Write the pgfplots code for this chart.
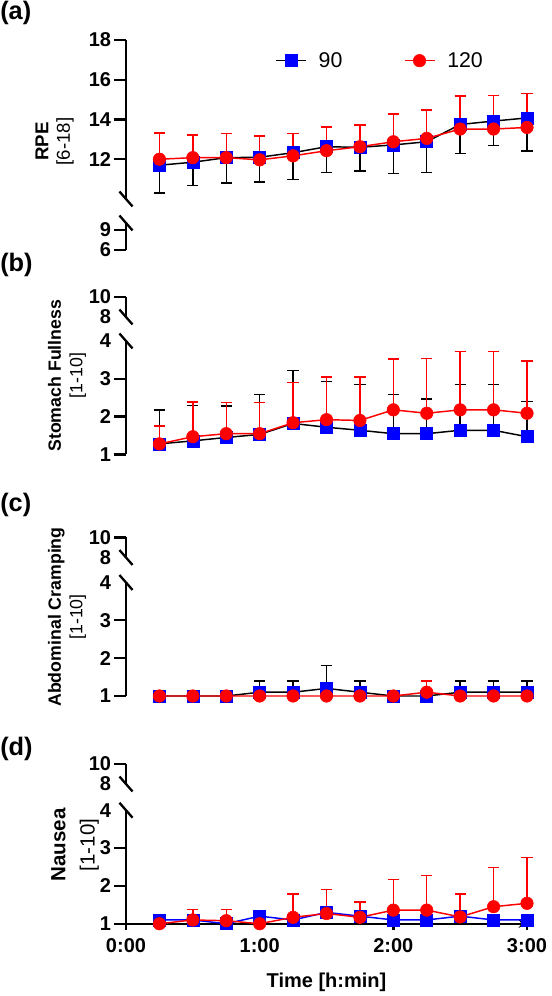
\documentclass[border=0pt]{standalone}
\usepackage{fontspec}
\setmainfont{Liberation Sans}
\usepackage{pgfplots}
\pgfplotsset{compat=1.18}
\definecolor{myblue}{RGB}{0,0,255}
\definecolor{myred}{RGB}{255,0,0}
\pgfplotsset{
 brk/.style={
  scale only axis, width=300.75pt, xmin=0, xmax=3, clip=false,
  axis y line=left, axis line style={-, line width=1.75pt},
  tick style={line width=1.75pt, black}, tick align=outside, major tick length=9pt,
  ytick pos=left,
  /pgf/number format/assume math mode=true,
  yticklabel style={font=\fontsize{15}{15}\selectfont\bfseries, inner sep=2pt},
  every axis plot/.append style={line width=1.1pt},
 },
 nox/.style={axis x line=none, xtick=\empty},
 hidetick/.style={extra y ticks={#1}, extra y tick style={major tick length=0pt, yticklabel style={xshift=-9pt}}},
 slash/.style={after end axis/.append code={\draw[line width=1.75pt, black] ([shift={(-4.9pt,5.6pt)}]axis cs:0,#1) -- ([shift={(4.9pt,-5.6pt)}]axis cs:0,#1);}},
 s90/.style={black, mark=square*, mark size=4.5pt, mark options={fill=myblue, draw=myblue, line width=0.4pt}},
 s120/.style={myred, mark=*, mark size=4.7pt, mark options={fill=myred, draw=myred, line width=0.4pt}},
 eb/.style={error bars/y dir=#1, error bars/y explicit, error bars/error bar style={line width=1.1pt}, error bars/error mark options={rotate=90, mark size=4.2pt, line width=1.1pt}},
}
\begin{document}
\begin{tikzpicture}
\path[use as bounding box] (0pt,0pt) rectangle (413.25pt,747pt);
% panel labels
\node[anchor=west, font=\fontsize{19}{19}\selectfont\bfseries, inner sep=0pt] at (0pt,737.25pt) {(a)};
\node[anchor=west, font=\fontsize{19}{19}\selectfont\bfseries, inner sep=0pt] at (0pt,548.25pt) {(b)};
\node[anchor=west, font=\fontsize{19}{19}\selectfont\bfseries, inner sep=0pt] at (0pt,368.25pt) {(c)};
\node[anchor=west, font=\fontsize{19}{19}\selectfont\bfseries, inner sep=0pt] at (0pt,185.25pt) {(d)};
% y labels
\node[rotate=90, align=center, font=\fontsize{14}{16}\selectfont] at (41pt,641pt) {\textbf{RPE}\\{[6-18]}};
\node[rotate=90, align=center, font=\fontsize{13.3}{16}\selectfont] at (50.25pt,465.2pt) {\textbf{Stomach Fullness}\\{[1-10]}};
\node[rotate=90, align=center, font=\fontsize{13.3}{16}\selectfont] at (50.25pt,284.25pt) {\textbf{Abdominal Cramping}\\{[1-10]}};
\node[rotate=90, align=center, font=\fontsize{15.4}{22}\selectfont] at (56.25pt,113.25pt) {\textbf{Nausea}\\{[1-10]}};
\node[font=\fontsize{15}{15}\selectfont\bfseries] at (244.9pt,10.5pt) {Time [h:min]};

% ---------- panel a ----------
\begin{axis}[brk, nox, at={(94.5pt,597.75pt)}, anchor=south west, height=119.25pt,
  ymin=10, ymax=18, ytick={12,14,16,18}, slash=10,
  legend columns=2, legend cell align=left,
  legend image code/.code={\draw[mark repeat=2,mark phase=2,#1] plot coordinates {(0pt,0pt) (11.25pt,0pt) (22.5pt,0pt)};},
  legend style={at={(0.3716,0.870)}, anchor=west, draw=none, fill=none, inner sep=0pt,
    font=\fontsize{16}{16}\selectfont,
    /tikz/every even column/.append style={column sep=44pt},
    /tikz/every odd column/.append style={column sep=7pt}}]
\addplot[s90, eb=minus] table[x=x, y=y, y error=e] {
x y e
0.25 11.70 1.40
0.50 11.85 1.17
0.75 12.08 1.28
1.00 12.10 1.25
1.25 12.33 1.36
1.50 12.63 1.30
1.75 12.60 1.20
2.00 12.72 1.44
2.25 12.88 1.56
2.50 13.75 1.47
2.75 13.92 1.24
3.00 14.08 1.66
};
\addlegendentry{90}
\addplot[s120, eb=plus] table[x=x, y=y, y error=e] {
x y e
0.25 12.00 1.33
0.50 12.08 1.14
0.75 12.08 1.22
1.00 11.97 1.20
1.25 12.17 1.13
1.50 12.43 1.20
1.75 12.63 1.09
2.00 12.88 1.39
2.25 13.05 1.42
2.50 13.52 1.66
2.75 13.52 1.70
3.00 13.60 1.70
};
\addlegendentry{120}
\end{axis}
\begin{axis}[brk, nox, at={(94.5pt,559.5pt)}, anchor=south west, height=20.25pt,
  ymin=6, ymax=10, ytick={6,9}, slash=10]
\end{axis}

% ---------- panel b ----------
\begin{axis}[brk, nox, at={(94.5pt,509.25pt)}, anchor=south west, height=15pt,
  ymin=8, ymax=10, ytick={10}, hidetick=8, slash=8]
\end{axis}
\begin{axis}[brk, nox, at={(94.5pt,406.125pt)}, anchor=south west, height=85.125pt,
  ymin=1, ymax=4, ytick={1,2,3}, hidetick=4, slash=4]
\addplot[s90, eb=plus] table[x=x, y=y, y error=e] {
x y e
0.25 1.28 0.90
0.50 1.36 0.94
0.75 1.45 0.83
1.00 1.53 1.05
1.25 1.82 1.40
1.50 1.72 1.21
1.75 1.64 1.21
2.00 1.55 1.03
2.25 1.55 0.92
2.50 1.64 1.21
2.75 1.64 1.21
3.00 1.47 0.93
};
\addplot[s120, eb=plus] table[x=x, y=y, y error=e] {
x y e
0.25 1.28 0.47
0.50 1.47 0.92
0.75 1.55 0.82
1.00 1.55 0.82
1.25 1.84 1.06
1.50 1.92 1.13
1.75 1.90 1.15
2.00 2.18 1.34
2.25 2.09 1.45
2.50 2.18 1.54
2.75 2.18 1.54
3.00 2.09 1.38
};
\end{axis}

% ---------- panel c ----------
\begin{axis}[brk, nox, at={(94.5pt,328.875pt)}, anchor=south west, height=15pt,
  ymin=8, ymax=10, ytick={10}, hidetick=8, slash=8]
\end{axis}
\begin{axis}[brk, nox, at={(94.5pt,225pt)}, anchor=south west, height=85.125pt,
  ymin=1, ymax=4, ytick={1,2,3}, hidetick=4, slash=4]
\addplot[s90, eb=plus] table[x=x, y=y, y error=e] {
x y e
0.25 1.0 0
0.50 1.0 0
0.75 1.0 0
1.00 1.1 0.3
1.25 1.1 0.3
1.50 1.2 0.6
1.75 1.1 0.3
2.00 1.0 0
2.25 1.0 0
2.50 1.1 0.3
2.75 1.1 0.3
3.00 1.1 0.3
};
\addplot[s120, eb=plus] table[x=x, y=y, y error=e] {
x y e
0.25 1.0 0
0.50 1.0 0
0.75 1.0 0
1.00 1.0 0
1.25 1.0 0
1.50 1.0 0
1.75 1.0 0
2.00 1.0 0
2.25 1.1 0.3
2.50 1.0 0
2.75 1.0 0
3.00 1.0 0
};
\end{axis}

% ---------- panel d ----------
\begin{axis}[brk, nox, at={(94.5pt,159pt)}, anchor=south west, height=15pt,
  ymin=8, ymax=10, ytick={10}, hidetick=8, slash=8]
\end{axis}
\begin{axis}[brk, at={(94.5pt,54.2pt)}, anchor=south west, height=85.125pt,
  ymin=1, ymax=4, ytick={1,2,3}, hidetick=4, slash=4,
  axis x line=bottom, xtick={0,1,2,3}, xticklabels={0:00,1:00,2:00,3:00},
  xtick pos=bottom,
  xticklabel style={font=\fontsize{15}{15}\selectfont\bfseries, yshift=-3pt}]
\addplot[s90, myblue] table[x=x, y=y] {
x y
0.25 1.1
0.50 1.1
0.75 1.0
1.00 1.2
1.25 1.1
1.50 1.3
1.75 1.2
2.00 1.1
2.25 1.1
2.50 1.2
2.75 1.1
3.00 1.1
};
\addplot[s120, eb=plus] table[x=x, y=y, y error=e] {
x y e
0.25 1.00 0
0.50 1.10 0.28
0.75 1.08 0.30
1.00 1.00 0
1.25 1.17 0.61
1.50 1.27 0.64
1.75 1.17 0.41
2.00 1.36 0.81
2.25 1.36 0.91
2.50 1.18 0.60
2.75 1.45 1.03
3.00 1.54 1.21
};
\end{axis}
\end{tikzpicture}
\end{document}
